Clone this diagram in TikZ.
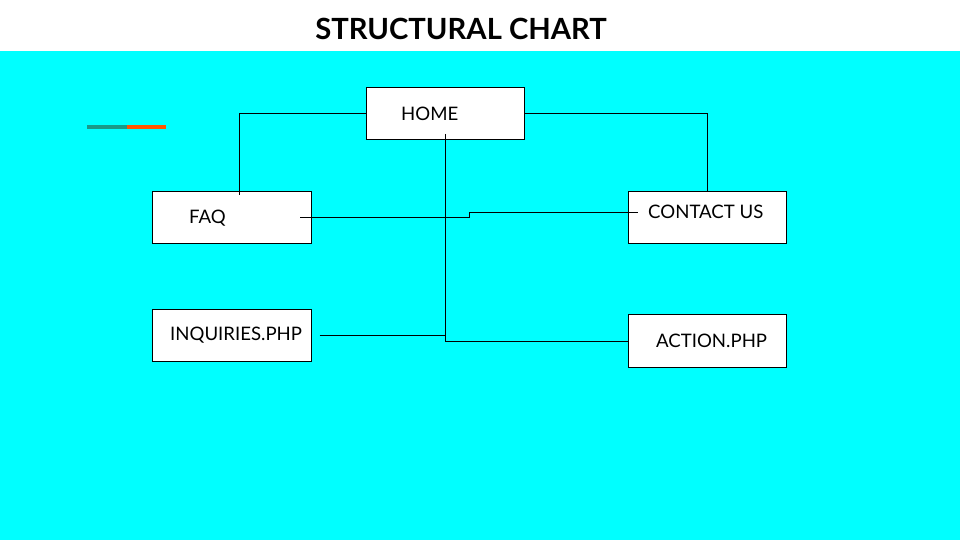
\documentclass[tikz,border=0pt]{standalone}
\usepackage{fontspec}
\setmainfont{Lato}
\definecolor{bgcyan}{HTML}{00FFFF}
\definecolor{accteal}{HTML}{1A9988}
\definecolor{accorange}{HTML}{FF5500}
\begin{document}
\begin{tikzpicture}[x=1pt,y=-1pt,
  box/.style={draw=black,fill=white,line width=0.9pt},
  lbl/.style={anchor=west,inner sep=0pt,font=\fontsize{18.6}{21}\selectfont},
  conn/.style={draw=black,line width=0.9pt}]
\useasboundingbox (0,0) rectangle (960,540);
\fill[white] (0,0) rectangle (960,51);
\fill[bgcyan] (0,51) rectangle (960,540);
\node[inner sep=0pt,font=\fontsize{29.2}{33}\bfseries\selectfont] (title) at (461,29) {STRUCTURAL CHART};
% accent
\fill[accteal] (87,125) rectangle (127,129.3);
\fill[accorange] (127,125) rectangle (165.5,129.3);
% boxes
\node[inner sep=0pt,minimum width=158pt,minimum height=52pt,box] (home) at (445,113) {};
\node[inner sep=0pt,minimum width=159pt,minimum height=52pt,box] (faq) at (231.5,217) {};
\node[inner sep=0pt,minimum width=158pt,minimum height=52pt,box] (contact) at (707,217) {};
\node[inner sep=0pt,minimum width=159pt,minimum height=52pt,box] (inq) at (231.5,335) {};
\node[inner sep=0pt,minimum width=158pt,minimum height=53pt,box] (action) at (707,340.5) {};
\node[lbl] (homet) at (401,114) {HOME};
\node[lbl] (faqt) at (189,218) {FAQ};
\node[lbl] (contactt) at (648,212) {CONTACT US};
\node[lbl] (inqt) at (170,335) {INQUIRIES.PHP};
\node[lbl] (actiont) at (656,341) {ACTION.PHP};
% connector points
\coordinate (hl) at (366,113);
\coordinate (hr) at (524,113);
\coordinate (faqtop) at (239,195);
\coordinate (conttop) at (707,191);
\coordinate (faqin) at (300,217.3);
\coordinate (contin) at (638,212.3);
\coordinate (hv) at (445,134);
\coordinate (hvb) at (445,341.5);
\coordinate (actl) at (628,341.5);
\coordinate (inqin) at (319.5,335.3);
\coordinate (inqj) at (445,335.3);
\draw[conn] (hl) -| (faqtop);
\draw[conn] (hr) -| (conttop);
\draw[conn] (faqin) -- (469.3,217.3) -- (469.3,212.3) -- (contin);
\draw[conn] (hv) -- (hvb) -- (actl);
\draw[conn] (inqin) -- (inqj);
\end{tikzpicture}
\end{document}
